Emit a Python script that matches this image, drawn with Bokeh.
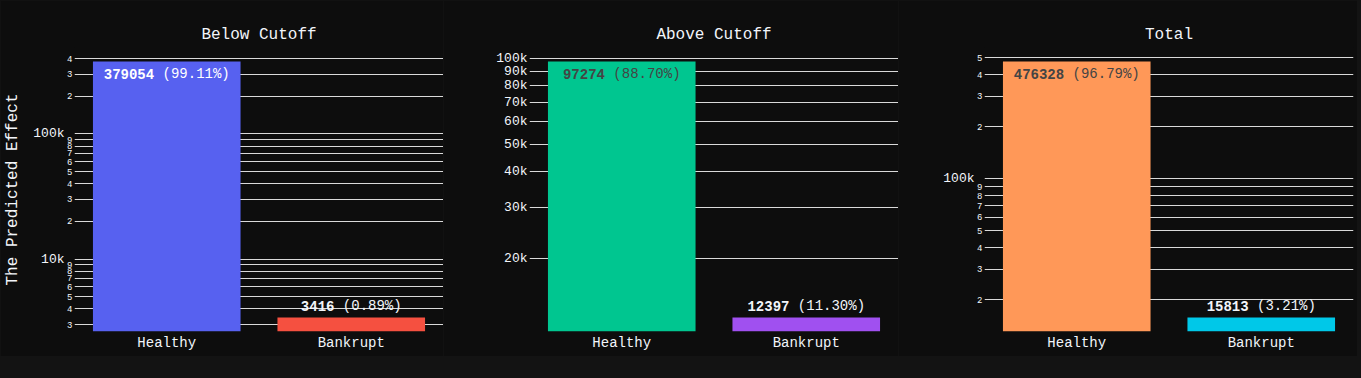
import math
from bokeh.plotting import figure
from bokeh.models import (ColumnDataSource, FactorRange, FixedTicker, LabelSet,
                          Range1d, LogAxis)
from bokeh.core.properties import value
from bokeh.layouts import row, column
from bokeh.embed import file_html
from bokeh.resources import INLINE

# ---------------- data ----------------
categories = ["Healthy", "Bankrupt"]
titles = ["Below Cutoff", "Above Cutoff", "Total"]

below_values = [379054, 3416]
below_pct = ["99.11%", "0.89%"]
above_values = [97274, 12397]
above_pct = ["88.70%", "11.30%"]
total_values = [476328, 15813]
total_pct = ["96.79%", "3.21%"]

below_colors = ["#5761F0", "#F55040"]
above_colors = ["#00C690", "#A050F0"]
total_colors = ["#FF9858", "#00C8E8"]

below_ticks = [3000, 4000, 5000, 6000, 7000, 8000, 9000, 10000,
               20000, 30000, 40000, 50000, 60000, 70000, 80000, 90000, 100000,
               200000, 300000, 400000]
below_tick_labels = ["3", "4", "5", "6", "7", "8", "9", "10k",
                     "2", "3", "4", "5", "6", "7", "8", "9", "100k",
                     "2", "3", "4"]
above_ticks = [20000, 30000, 40000, 50000, 60000, 70000, 80000, 90000, 100000]
above_tick_labels = ["20k", "30k", "40k", "50k", "60k", "70k", "80k", "90k", "100k"]
total_ticks = [20000, 30000, 40000, 50000, 60000, 70000, 80000, 90000, 100000,
               200000, 300000, 400000, 500000]
total_tick_labels = ["2", "3", "4", "5", "6", "7", "8", "9", "100k",
                     "2", "3", "4", "5"]

inside_text_colors = ["#FFFFFF", "#444444", "#444444"]

# ---------------- style ----------------
BG = "#0d0d0d"
PAGE = "#131313"
FG = "#f2f5fa"
GRID = "#d9d9d9"
FONT = "Courier New"
FRAME_W = 369
FRAME_H = 284
TOP = 47
BOTTOM = 25
PAD_PX = 14
LABEL_FS = 14
CW = 0.6 * LABEL_FS


def style_yaxis(ax, ticks, overrides, size, standoff):
    ax.ticker = FixedTicker(ticks=ticks, minor_ticks=[])
    ax.major_label_overrides = overrides
    ax.major_label_text_font = FONT
    ax.major_label_text_font_size = size
    ax.major_label_text_color = FG
    ax.major_label_standoff = standoff
    ax.major_tick_in = 0
    ax.major_tick_out = 0
    ax.minor_tick_in = 0
    ax.minor_tick_out = 0
    ax.axis_line_color = None


def make_panel(idx, values, pct, colors, ticks, tick_labels, left, right):
    lo = math.log10(min(values))
    hi = math.log10(max(values))
    d = (hi - lo) / (FRAME_H - 2 * PAD_PX)
    y0 = 10 ** (lo - PAD_PX * d)
    y1 = 10 ** (hi + PAD_PX * d)

    p = figure(x_range=FactorRange(*categories), y_range=Range1d(y0, y1),
               y_axis_type="log", width=left + FRAME_W + right,
               height=TOP + FRAME_H + BOTTOM, min_border_left=left,
               min_border_right=right, min_border_top=TOP,
               min_border_bottom=BOTTOM, output_backend="svg",
               toolbar_location=None, title=titles[idx])
    p.background_fill_color = BG
    p.border_fill_color = BG
    p.outline_line_color = None

    p.title.align = "center"
    p.title.text_font = FONT
    p.title.text_font_size = "16px"
    p.title.text_font_style = "normal"
    p.title.text_color = FG
    p.title.standoff = 7

    src = ColumnDataSource(dict(cat=categories, val=values, color=colors))
    p.vbar(x="cat", top="val", bottom=y0, width=0.8, fill_color="color",
           line_color=None, source=src)

    # grid
    p.xgrid.grid_line_color = None
    p.ygrid.ticker = FixedTicker(ticks=ticks, minor_ticks=[])
    p.ygrid.grid_line_color = GRID
    p.ygrid.grid_line_width = 1

    # y axes: small digit labels next to the frame, "k" labels further out
    big = {}
    small = {}
    for t, lab in zip(ticks, tick_labels):
        if lab.endswith("k"):
            big[t] = lab
            small[t] = ""
        else:
            big[t] = ""
            small[t] = lab
    has_small = any(v for v in small.values())
    ya = p.yaxis[0]
    if has_small:
        style_yaxis(ya, ticks, small, "9px", 2)
        ya2 = LogAxis()
        style_yaxis(ya2, ticks, big, "13px", 0)
        p.add_layout(ya2, "left")
        label_axis = ya2
    else:
        style_yaxis(ya, ticks, big, "13px", 2)
        label_axis = ya
    if idx == 0:
        label_axis.axis_label = "The Predicted Effect"
        label_axis.axis_label_text_font = FONT
        label_axis.axis_label_text_font_size = "16px"
        label_axis.axis_label_text_font_style = "normal"
        label_axis.axis_label_text_color = FG
        label_axis.axis_label_standoff = 8

    # x axis
    xa = p.xaxis[0]
    xa.major_label_text_font = FONT
    xa.major_label_text_font_size = "14px"
    xa.major_label_text_color = FG
    xa.major_label_standoff = 3
    xa.major_tick_in = 0
    xa.major_tick_out = 0
    xa.axis_line_color = None

    # bar labels: bold count + normal percentage
    nums = [str(v) for v in values]
    pcts = ["(" + s + ")" for s in pct]
    for i, cat in enumerate(categories):
        total_len = len(nums[i]) + 1 + len(pcts[i])
        half = total_len * CW / 2
        inside = i == 0
        yoff = -12 if inside else 12
        col = inside_text_colors[idx] if inside else FG
        s = ColumnDataSource(dict(x=[cat], y=[values[i]], n=[nums[i]], q=[pcts[i]]))
        p.add_layout(LabelSet(x="x", y="y", text="n", source=s, x_offset=-half,
                              y_offset=yoff, text_align="left",
                              text_baseline="middle", text_font=value(FONT),
                              text_font_size=value(f"{LABEL_FS}px"),
                              text_font_style="bold", text_color=col))
        p.add_layout(LabelSet(x="x", y="y", text="q", source=s, x_offset=half,
                              y_offset=yoff, text_align="right",
                              text_baseline="middle", text_font=value(FONT),
                              text_font_size=value(f"{LABEL_FS}px"),
                              text_font_style="normal", text_color=col))
    return p


p1 = make_panel(0, below_values, below_pct, below_colors, below_ticks,
                below_tick_labels, 74, 0)
p2 = make_panel(1, above_values, above_pct, above_colors, above_ticks,
                above_tick_labels, 86, 0)
p3 = make_panel(2, total_values, total_pct, total_colors, total_ticks,
                total_tick_labels, 86, 4)

p = column(row(p1, p2, p3), width=1361, height=378,
           styles={"background-color": PAGE})

open("out.html", "w").write(file_html(p, INLINE))
